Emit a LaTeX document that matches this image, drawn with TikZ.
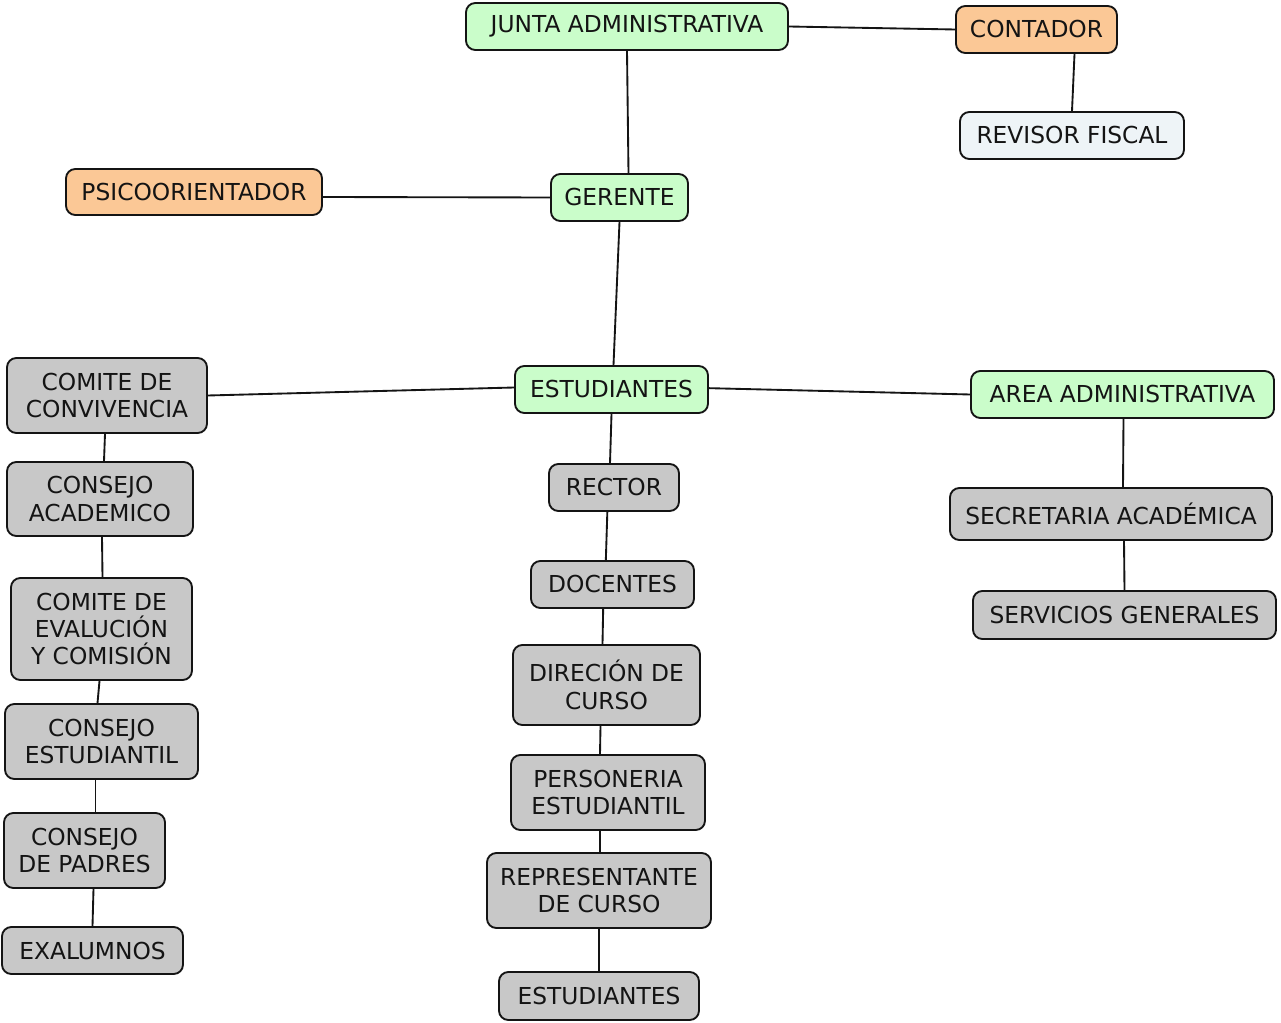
\documentclass[tikz,border=0pt]{standalone}
\usepackage{fontspec}
\setmainfont{DejaVu Sans}
\definecolor{gfill}{RGB}{202,253,202}
\definecolor{ofill}{RGB}{251,200,150}
\definecolor{bfill}{RGB}{238,244,247}
\definecolor{kfill}{RGB}{200,200,200}
\definecolor{ink}{RGB}{20,20,20}
\tikzset{
  base/.style={draw=ink, line width=1.4pt, rounded corners=7pt, align=center,
    inner sep=0pt, text=ink, font=\fontsize{17.5}{20.5}\selectfont},
  gbox/.style={base, fill=gfill},
  obox/.style={base, fill=ofill},
  bbox/.style={base, fill=bfill},
  kbox/.style={base, fill=kfill},
  conn/.style={draw=ink, line width=1.4pt}
}
\newcommand\boxnode[7]{%
  \node[#2, minimum width={(#5-#3)*0.75pt}, minimum height={(#6-#4)*0.75pt}] (#1) at ({(#3+#5)/2},{(#4+#6)/2}) {#7};}
\begin{document}
\begin{tikzpicture}[x=0.75pt,y=-0.75pt]
\useasboundingbox[fill=white] (0,0) rectangle (1281,1023);
% top
\boxnode{junta}{gbox}{466}{3}{788}{50}{JUNTA ADMINISTRATIVA}
\boxnode{contador}{obox}{956}{6}{1117}{53}{CONTADOR}
\boxnode{revisor}{bbox}{960}{112}{1184}{159}{REVISOR FISCAL}
\boxnode{psico}{obox}{66}{169}{322}{215}{PSICOORIENTADOR}
\boxnode{gerente}{gbox}{551}{174}{688}{221}{GERENTE}
\boxnode{estud}{gbox}{515}{366}{708}{413}{ESTUDIANTES}
\boxnode{area}{gbox}{971}{371}{1274}{418}{AREA ADMINISTRATIVA}
% left column
\boxnode{conviv}{kbox}{7}{358}{207}{433}{COMITE DE\\CONVIVENCIA}
\boxnode{acad}{kbox}{7}{462}{193}{536}{CONSEJO\\ACADEMICO}
\boxnode{eval}{kbox}{11}{578}{192}{680}{COMITE DE\\EVALUCIÓN\\Y COMISIÓN}
\boxnode{cest}{kbox}{5}{704}{198}{779}{CONSEJO\\ESTUDIANTIL}
\boxnode{padres}{kbox}{4}{813}{165}{888}{CONSEJO\\DE PADRES}
\boxnode{exal}{kbox}{2}{927}{183}{974}{EXALUMNOS}
% center column
\boxnode{rector}{kbox}{549}{464}{679}{511}{RECTOR}
\boxnode{docentes}{kbox}{531}{561}{694}{608}{DOCENTES}
\boxnode{direc}{kbox}{513}{645}{700}{725}{DIRECIÓN DE\\CURSO}
\boxnode{person}{kbox}{511}{755}{705}{830}{PERSONERIA\\ESTUDIANTIL}
\boxnode{repre}{kbox}{487}{853}{711}{928}{REPRESENTANTE\\DE CURSO}
\boxnode{estud2}{kbox}{499}{972}{699}{1020}{ESTUDIANTES}
% right column
\boxnode{secre}{kbox}{950}{488}{1272}{540}{SECRETARIA ACADÉMICA}
\boxnode{servi}{kbox}{973}{591}{1276}{639}{SERVICIOS GENERALES}
% connectors
\draw[conn] (junta.east) -- (contador.west);
\draw[conn] ([xshift=28.5pt]contador.south) -- ([xshift=0pt]revisor.north);
\draw[conn] (junta.south) -- ([xshift=6.75pt]gerente.north);
\draw[conn] ([yshift=-3.75pt]psico.east) -- (gerente.west);
\draw[conn] (gerente.south) -- ([xshift=1.5pt]estud.north);
\draw[conn] (conviv.east) -- ([yshift=1.5pt]estud.west);
\draw[conn] ([yshift=1pt]estud.east) -- (area.west);
\draw[conn] (estud.south) -- ([xshift=-3pt]rector.north);
\draw[conn] ([xshift=-5pt]rector.south) -- ([xshift=-5pt]docentes.north);
\draw[conn] ([xshift=-7pt]docentes.south) -- ([xshift=-3pt]direc.north);
\draw[conn] ([xshift=-4.5pt]direc.south) -- ([xshift=-6pt]person.north);
\draw[conn] ([xshift=-6pt]person.south) -- ([xshift=0.75pt]repre.north);
\draw[conn] (repre.south) -- (estud2.north);
\draw[conn] ([xshift=0.75pt]area.south) -- ([xshift=9pt]secre.north);
\draw[conn] ([xshift=9.75pt]secre.south) -- (servi.north);
\draw[conn] ([xshift=-1.5pt]conviv.south) -- ([xshift=3pt]acad.north);
\draw[conn] ([xshift=1.5pt]acad.south) -- ([xshift=0.75pt]eval.north);
\draw[conn] ([xshift=-1.5pt]eval.south) -- ([xshift=-3pt]cest.north);
\draw[conn] ([xshift=-4.5pt]cest.south) -- ([xshift=8.25pt]padres.north);
\draw[conn] ([xshift=6.75pt]padres.south) -- (exal.north);
\end{tikzpicture}
\end{document}
